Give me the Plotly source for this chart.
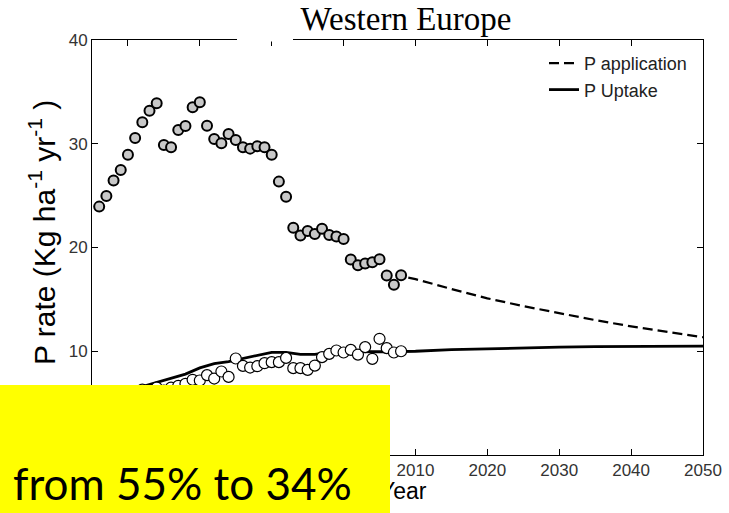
import plotly.graph_objects as go

# ---------------- data ----------------
obs_years = list(range(1966, 2009))
p_application_obs = [23.94, 24.97, 26.45, 27.48, 28.95, 30.56, 32.07, 33.19, 33.9, 29.88,
                     29.66, 31.33, 31.71, 33.52, 34.0, 31.74, 30.46, 30.05, 30.94, 30.37,
                     29.66, 29.53, 29.76, 29.66, 28.95, 26.35, 24.9, 21.9, 21.15, 21.6,
                     21.3, 21.8, 21.2, 21.05, 20.83, 18.84, 18.3, 18.45, 18.58, 18.87,
                     17.3, 16.4, 17.33]
p_uptake_obs = [5.1, 5.4, 5.2, 5.8, 5.6, 6.0, 6.3, 6.1, 6.5, 6.2,
                6.5, 6.67, 6.86, 7.25, 7.18, 7.7, 7.37, 8.05, 7.53, 9.3,
                8.59, 8.43, 8.56, 8.85, 8.95, 8.95, 9.36, 8.37, 8.37, 8.21,
                8.62, 9.43, 9.75, 10.07, 9.88, 10.13, 9.68, 10.4, 9.27, 11.2,
                10.3, 9.88, 10.0]

proj_years = [2009, 2010, 2015, 2020, 2025, 2030, 2035, 2040, 2045, 2050]
p_application_proj = [17.1, 16.95, 16.0, 15.1, 14.35, 13.65, 13.0, 12.4, 11.85, 11.35]

uptake_line_years = [1966, 1968, 1970, 1972, 1974, 1976, 1978, 1980, 1982, 1984, 1986,
                     1988, 1990, 1992, 1994, 1996, 1998, 2000, 2002, 2004, 2006, 2008,
                     2010, 2015, 2020, 2025, 2030, 2035, 2040, 2045, 2050]
uptake_line_vals = [5.4, 5.8, 6.2, 6.6, 7.05, 7.4, 7.8, 8.4, 8.8, 9.0, 9.3,
                    9.65, 9.9, 9.9, 9.7, 9.7, 9.9, 10.0, 9.95, 9.95, 9.95, 9.95,
                    10.0, 10.15, 10.25, 10.32, 10.4, 10.45, 10.48, 10.5, 10.5]

x_ticks = [1970, 1980, 1990, 2000, 2010, 2020, 2030, 2040, 2050]
y_ticks = [0, 10, 20, 30, 40]

title_text = "Western Europe"
x_title = "Year"
y_title = "P rate (Kg ha<sup>-1</sup> yr<sup>-1</sup> )"
note_text = "from 55% to 34%"

# ---------------- layout geometry (pixels) ----------------
W, H = 729, 513
L, R, T, B = 92, 703, 40, 455


def px_x(p):
    return (p - L) / (R - L)


def px_y(p):
    return (B - p) / (B - T)


fig = go.Figure()

fig.add_trace(go.Scatter(
    x=proj_years, y=p_application_proj, mode="lines", name="P application",
    line=dict(color="black", width=2.2, dash="10px,5px")))
fig.add_trace(go.Scatter(
    x=uptake_line_years, y=uptake_line_vals, mode="lines", name="P Uptake",
    line=dict(color="black", width=2.8)))
fig.add_trace(go.Scatter(
    x=obs_years, y=p_uptake_obs, mode="markers", showlegend=False,
    marker=dict(symbol="circle", size=11, color="white",
                line=dict(color="black", width=1.2))))
fig.add_trace(go.Scatter(
    x=obs_years, y=p_application_obs, mode="markers", showlegend=False,
    marker=dict(symbol="circle", size=10, color="#c8c8c8",
                line=dict(color="black", width=2))))

axis_common = dict(
    showgrid=False, zeroline=False, showline=True, linecolor="black", linewidth=1,
    mirror="ticks", ticks="inside", ticklen=6, tickcolor="black", tickwidth=1,
    automargin=False,
    tickfont=dict(family="Liberation Sans, Arial", size=17, color="#333333"),
)

fig.update_xaxes(range=[1965, 2050], tickvals=x_ticks, **axis_common)
fig.update_yaxes(range=[0, 40], tickvals=y_ticks, **axis_common)

fig.update_layout(
    width=W, height=H,
    margin=dict(l=L, r=W - R, t=T, b=H - B, pad=0, autoexpand=False),
    paper_bgcolor="white", plot_bgcolor="white",
    title=dict(text=title_text, font=dict(family="Liberation Serif, Times New Roman", size=33, color="black"),
               x=406 / W, xanchor="center", xref="container",
               y=1 - 18 / H, yanchor="middle"),
    legend=dict(x=px_x(692), y=px_y(45), xanchor="right", yanchor="top",
                bgcolor="rgba(255,255,255,0)", borderwidth=0,
                font=dict(family="Liberation Sans, Arial", size=18, color="#222222"),
                tracegroupgap=0),
    showlegend=True,
    shapes=[
        # white patch over the top frame near the title
        dict(type="rect", xref="paper", yref="paper",
             x0=px_x(237), x1=px_x(293), y0=px_y(41.5), y1=px_y(37),
             fillcolor="white", line=dict(width=0), layer="above"),
    ],
    annotations=[
        # y-axis title
        dict(text=y_title, xref="paper", yref="paper",
             x=px_x(42), y=px_y(233), xanchor="center", yanchor="middle",
             textangle=-90, showarrow=False,
             font=dict(family="Liberation Sans, Arial", size=30, color="black")),
        # x-axis title (partly hidden by the yellow box)
        dict(text=x_title, xref="paper", yref="paper",
             x=px_x(403), y=px_y(491), xanchor="center", yanchor="middle",
             showarrow=False,
             font=dict(family="Liberation Sans, Arial", size=23, color="black")),
        # yellow overlay box
        dict(text=" ", xref="paper", yref="paper",
             x=px_x(0), y=px_y(385), xanchor="left", yanchor="top",
             width=390, height=128, bgcolor="#ffff00", borderpad=0, borderwidth=0,
             showarrow=False, font=dict(size=10)),
        dict(text=note_text, xref="paper", yref="paper",
             x=px_x(182), y=px_y(483), xanchor="center", yanchor="middle",
             showarrow=False, font=dict(family="Lato, Open Sans", size=44, color="black")),
    ],
)

fig.write_html("out.html", config={"displayModeBar": False},
               post_script="document.body.style.margin='0px';document.body.style.overflow='hidden';")
